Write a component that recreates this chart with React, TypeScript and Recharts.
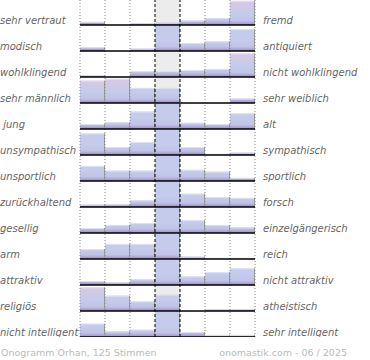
import React from 'react';
import { BarChart, Bar, XAxis, YAxis, ReferenceLine, ReferenceArea } from 'recharts';

// 7 Stufen pro Eigenschaftspaar
const bins = ['1', '2', '3', '4', '5', '6', '7'];

const leftLabels = [
  'sehr vertraut', 'modisch', 'wohlklingend', 'sehr männlich', ' jung', 'unsympathisch',
  'unsportlich', 'zurückhaltend', 'gesellig', 'arm', 'attraktiv', 'religiös', 'nicht intelligent',
];

const rightLabels = [
  'fremd', 'antiquiert', 'nicht wohlklingend', 'sehr weiblich', 'alt', 'sympathisch',
  'sportlich', 'forsch', 'einzelgängerisch', 'reich', 'nicht attraktiv', 'atheistisch', 'sehr intelligent',
];

// Balkenhöhe in % der Zeilenhöhe (100 = volle Zeile)
const rowValues = [
  [12, 0, 7, 9, 17, 26, 93],
  [14, 0, 9, 100, 30, 37, 84],
  [7, 0, 23, 23, 27, 31, 91],
  [86, 93, 58, 58, 0, 0, 17],
  [19, 26, 67, 100, 24, 19, 60],
  [83, 30, 50, 100, 30, 4, 9],
  [58, 40, 40, 100, 43, 36, 12],
  [9, 10, 26, 100, 51, 38, 35],
  [19, 31, 38, 100, 49, 31, 22],
  [38, 58, 58, 100, 9, 4, 4],
  [15, 10, 22, 100, 33, 49, 64],
  [91, 59, 37, 63, 0, 7, 7],
  [51, 22, 28, 100, 19, 8, 8],
];

const footerLeft = 'Onogramm Orhan, 125 Stimmen';
const footerRight = 'onomastik.com - 06 / 2025';

const N = rowValues.length;
const PLOT_H = 338;
const ROW_PX = PLOT_H / N;
const FONT = '"DejaVu Sans", sans-serif';

// one row per stack segment: value + transparent rest
const data = bins.map((b, i) => {
  const d: Record<string, number | string> = { bin: b };
  rowValues.forEach((vals, k) => {
    d[`v${k}`] = vals[i];
    d[`r${k}`] = 100 - vals[i];
  });
  return d;
});

const rowBase = (k: number) => (N - 1 - k) * 100;
const tickVals = rowValues.map((_, k) => rowBase(k) + 19).reverse();
const rowOf = (v: number) => N - 1 - Math.floor(v / 100);

const makeShape = (k: number) => (p: any) => {
  const { x, y, width, height, index } = p;
  if (!height || height <= 0) return <g />;
  const base = y + height;
  const id = `grad-${k}-${index}`;
  const pinkTop = rowValues[k][3] < 100;
  return (
    <g>
      <defs>
        <linearGradient id={id} gradientUnits="userSpaceOnUse" x1={0} y1={base - ROW_PX} x2={0} y2={base}>
          <stop offset="0" stopColor={pinkTop ? '#dfc7e6' : '#c6cbea'} />
          <stop offset="0.4" stopColor={pinkTop ? '#cdc9e8' : '#c5cbea'} />
          <stop offset="0.6" stopColor="#c5cbea" />
          <stop offset="0.84" stopColor="#c0c3e7" />
          <stop offset="0.93" stopColor="#aca3d4" />
          <stop offset="1" stopColor="#9b8dc7" />
        </linearGradient>
      </defs>
      <rect x={x} y={y} width={width} height={height} fill={`url(#${id})`} />
      <line x1={x} x2={x + width} y1={y + 0.5} y2={y + 0.5} stroke="#dfe2f2" strokeWidth={1} />
      <line x1={x + width - 0.5} x2={x + width - 0.5} y1={y} y2={base} stroke="#999" strokeWidth={1} />
    </g>
  );
};

const labelStyle = {
  fontFamily: FONT,
  fontSize: 10,
  fontStyle: 'italic',
  fill: '#666',
  whiteSpace: 'pre',
} as React.CSSProperties;

const LeftTick = (props: any) => {
  const { y, payload } = props;
  return (
    <text x={0} y={y} dy="0.35em" textAnchor="start" style={labelStyle}>
      {leftLabels[rowOf(payload.value)]}
    </text>
  );
};

// right-hand label, placed next to the row's baseline
const rightLabel = (k: number) => (props: any) => {
  const vb = props.viewBox || {};
  return (
    <text x={vb.x + vb.width + 8} y={vb.y - 5} dy="0.35em" textAnchor="start" style={labelStyle}>
      {rightLabels[k]}
    </text>
  );
};

const dotted = { stroke: '#888', strokeDasharray: '1 2', strokeWidth: 1 };
const dashed = { stroke: '#000', strokeDasharray: '3 2', strokeWidth: 1 };

export default function App() {
  return (
    <div style={{ position: 'relative', width: 370, height: 360, background: '#fff', overflow: 'hidden' }}>
      <style>{'body{margin:0}'}</style>
      <div style={{ position: 'absolute', left: 0, top: -1 }}>
        <BarChart
          width={370}
          height={PLOT_H}
          data={data}
          margin={{ top: 0, right: 115, bottom: 0, left: 0 }}
          barCategoryGap={0}
          barGap={0}
        >
          <XAxis dataKey="bin" hide />
          <YAxis
            yAxisId="l"
            domain={[0, N * 100]}
            ticks={tickVals}
            width={80}
            axisLine={false}
            tickLine={false}
            tick={<LeftTick />}
            interval={0}
          />
          <ReferenceArea yAxisId="l" x1="4" x2="4" fill="#ececec" fillOpacity={1} stroke="none" />
          {rowValues.map((_, j) => {
            const k = N - 1 - j;
            return [
              <Bar key={`v${k}`} yAxisId="l" dataKey={`v${k}`} stackId="s" shape={makeShape(k)} isAnimationActive={false} />,
              <Bar key={`r${k}`} yAxisId="l" dataKey={`r${k}`} stackId="s" fill="none" shape={() => <g />} isAnimationActive={false} />,
            ];
          })}
          {bins.map((b) => (
            <ReferenceLine
              key={`s${b}`}
              yAxisId="l"
              x={b}
              position="start"
              {...(b === '4' || b === '5' ? dashed : dotted)}
            />
          ))}
          <ReferenceLine yAxisId="l" x="7" position="end" {...dotted} />
          {rowValues.map((_, k) => (
            <ReferenceLine
              key={`b${k}`}
              yAxisId="l"
              y={rowBase(k)}
              stroke="#000"
              strokeWidth={1.5}
              label={rightLabel(k)}
            />
          ))}
        </BarChart>
      </div>
      <div style={{ position: 'absolute', left: 1, top: 346, fontFamily: FONT, fontSize: 9.5, lineHeight: '13px', color: '#bbb' }}>
        {footerLeft}
      </div>
      <div style={{ position: 'absolute', right: 23, top: 346, fontFamily: FONT, fontSize: 9.5, lineHeight: '13px', color: '#bbb' }}>
        {footerRight}
      </div>
    </div>
  );
}
